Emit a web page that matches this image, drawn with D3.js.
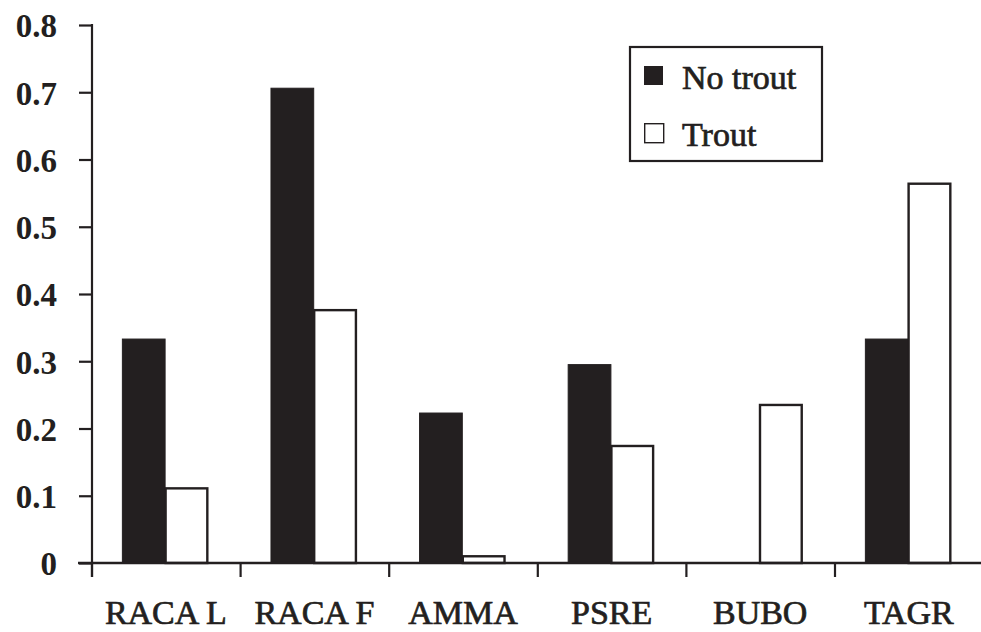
<!DOCTYPE html>
<html>
<head>
<meta charset="utf-8">
<script src="https://cdn.jsdelivr.net/npm/d3@7"></script>
<style>
  html, body { margin: 0; padding: 0; background: #fff; }
  svg { display: block; }
  text { font-family: "Liberation Serif", "DejaVu Serif", serif; fill: #231f20; }
</style>
</head>
<body>
<svg id="chart" width="981" height="632"></svg>
<script>
const categories = ["RACA L", "RACA F", "AMMA", "PSRE", "BUBO", "TAGR"];
const seriesNames = ["No trout", "Trout"];
const noTrout = [0.333, 0.706, 0.223, 0.295, 0, 0.333];
const trout = [0.111, 0.376, 0.010, 0.174, 0.235, 0.564];
const yTicks = [0, 0.1, 0.2, 0.3, 0.4, 0.5, 0.6, 0.7, 0.8];

const ink = "#231f20";
const svg = d3.select("#chart");
svg.append("rect").attr("width", 981).attr("height", 632).attr("fill", "#fff");

const x0 = d3.scaleBand().domain(categories)
  .range([92, 92 + 6 * 148.6]).paddingInner(0.425).paddingOuter(0.2125);
const x1 = d3.scaleBand().domain(seriesNames).range([0, x0.bandwidth()]).padding(0);
const y = d3.scaleLinear().domain([0, 0.8]).range([563, 25]);

const data = categories.map((c, i) => ({ cat: c, vals: [
  { s: "No trout", v: noTrout[i] }, { s: "Trout", v: trout[i] } ] }));

// bars
const g = svg.append("g");
const groups = g.selectAll("g.cat").data(data).join("g")
  .attr("transform", d => `translate(${x0(d.cat) - 1.2},0)`);
groups.selectAll("rect").data(d => d.vals.filter(e => e.v > 0)).join("rect")
  .attr("x", d => x1(d.s) + (d.s === "Trout" ? 0.5 : 0))
  .attr("y", d => y(d.v))
  .attr("width", d => x1.bandwidth() - (d.s === "Trout" ? 1 : 0))
  .attr("height", d => y(0) - y(d.v))
  .attr("fill", d => d.s === "No trout" ? ink : "#fff")
  .attr("stroke", ink)
  .attr("stroke-width", d => d.s === "No trout" ? 1 : 2.4);

// y axis
const yAxis = svg.append("g").attr("transform", "translate(92,0)")
  .call(d3.axisLeft(y).tickValues(yTicks).tickSize(13).tickSizeOuter(0).tickPadding(22)
    .tickFormat(d => d === 0 ? "0" : d3.format(".1f")(d)));
yAxis.select(".domain").remove();
yAxis.selectAll(".tick line").attr("stroke", ink).attr("stroke-width", 2.2);
yAxis.selectAll(".tick text")
  .attr("font-family", "'Liberation Serif', serif")
  .attr("font-size", 33).attr("font-weight", "bold")
  .attr("fill", ink).attr("dy", "0.36em");
svg.append("line").attr("x1", 92).attr("x2", 92).attr("y1", y(0.8) - 1).attr("y2", 577)
  .attr("stroke", ink).attr("stroke-width", 2.2);

// x axis baseline
svg.append("line").attr("x1", 78).attr("x2", 981).attr("y1", y(0)).attr("y2", y(0))
  .attr("stroke", ink).attr("stroke-width", 2.4);
// category boundary ticks
const bounds = categories.map(c => x0(c) - x0.step() * x0.paddingInner() / 2);
svg.selectAll("line.ctick").data(bounds).join("line").attr("class", "ctick")
  .attr("x1", d => d).attr("x2", d => d).attr("y1", y(0)).attr("y2", y(0) + 14)
  .attr("stroke", ink).attr("stroke-width", 2.2);

// x labels
const xAxis = svg.append("g").attr("transform", `translate(-0.5,${y(0)})`)
  .call(d3.axisBottom(x0).tickSize(0).tickPadding(0));
xAxis.select(".domain").remove();
xAxis.selectAll(".tick text")
  .attr("font-family", "'Liberation Serif', serif")
  .attr("font-size", 34).attr("fill", ink)
  .attr("stroke", ink).attr("stroke-width", 0.7)
  .attr("dy", 0).attr("y", 61);

// legend
const leg = svg.append("g");
leg.append("rect").attr("x", 630).attr("y", 47).attr("width", 192).attr("height", 114)
  .attr("fill", "#fff").attr("stroke", ink).attr("stroke-width", 2.2);
const legItems = leg.selectAll("g.li").data(seriesNames).join("g")
  .attr("transform", (d, i) => `translate(644,${66 + i * 57})`);
legItems.append("rect").attr("width", 19).attr("height", 19)
  .attr("x", d => d === "Trout" ? 0.7 : 0).attr("y", d => d === "Trout" ? 0.7 : 0)
  .attr("fill", d => d === "No trout" ? ink : "#fff")
  .attr("stroke", ink).attr("stroke-width", d => d === "No trout" ? 0 : 1.4);
legItems.append("text").attr("x", 38).attr("y", 23)
  .attr("font-size", 34).attr("stroke", ink).attr("stroke-width", 0.7)
  .text(d => d);
</script>
</body>
</html>
